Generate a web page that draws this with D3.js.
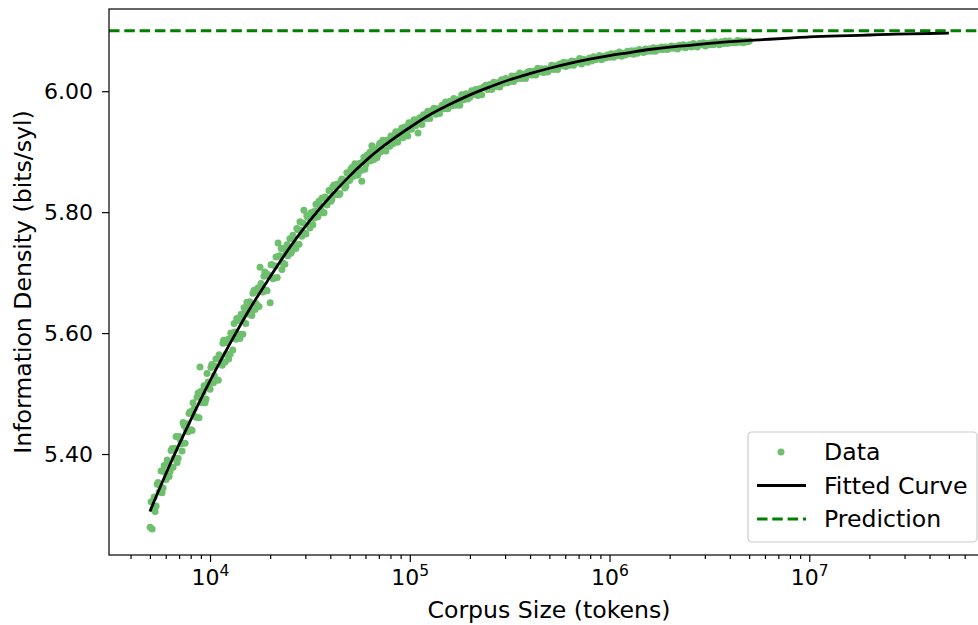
<!DOCTYPE html>
<html>
<head>
<meta charset="utf-8">
<script src="https://cdn.jsdelivr.net/npm/d3@7"></script>
<style>
    body { margin: 0; background: #fff; }
    svg { display: block; font-family: 'DejaVu Sans', sans-serif; }
    .axis .domain { display: none; }
    .axis line { stroke: #000; stroke-width: 1.2; }
    .axis text { fill: #000; font-size: 22px; font-family: 'DejaVu Sans', sans-serif; }
</style>
</head>
<body>
<svg id="chart" width="978" height="625"></svg>
<script>
// corpus sizes (tokens) of the measured points
const sizes = [
    5.01e3, 5.13e3, 5.25e3, 5.37e3, 5.50e3, 5.62e3, 5.75e3, 5.89e3, 6.03e3, 6.17e3,
    6.31e3, 6.46e3, 6.61e3, 6.76e3, 6.92e3, 7.08e3, 7.24e3, 7.41e3, 7.59e3, 7.76e3,
    7.94e3, 8.13e3, 8.32e3, 8.51e3, 8.71e3, 8.91e3, 9.12e3, 9.33e3, 9.55e3, 9.77e3,
    1.00e4, 1.02e4, 1.05e4, 1.07e4, 1.10e4, 1.12e4, 1.15e4, 1.17e4, 1.20e4, 1.23e4,
    1.26e4, 1.29e4, 1.32e4, 1.35e4, 1.38e4, 1.41e4, 1.45e4, 1.48e4, 1.51e4, 1.55e4,
    1.58e4, 1.62e4, 1.66e4, 1.70e4, 1.74e4, 1.78e4, 1.82e4, 1.86e4, 1.91e4, 1.95e4,
    2.00e4, 2.04e4, 2.09e4, 2.14e4, 2.19e4, 2.24e4, 2.29e4, 2.34e4, 2.40e4, 2.45e4,
    2.51e4, 2.57e4, 2.63e4, 2.69e4, 2.75e4, 2.82e4, 2.88e4, 2.95e4, 3.02e4, 3.09e4,
    3.16e4, 3.24e4, 3.31e4, 3.39e4, 3.47e4, 3.55e4, 3.63e4, 3.72e4, 3.80e4, 3.89e4,
    3.98e4, 4.07e4, 4.17e4, 4.27e4, 4.37e4, 4.47e4, 4.57e4, 4.68e4, 4.79e4, 4.90e4,
    5.01e4, 5.13e4, 5.25e4, 5.37e4, 5.50e4, 5.62e4, 5.75e4, 5.89e4, 6.03e4, 6.17e4,
    6.31e4, 6.46e4, 6.61e4, 6.76e4, 6.92e4, 7.08e4, 7.24e4, 7.41e4, 7.59e4, 7.76e4,
    7.94e4, 8.13e4, 8.32e4, 8.51e4, 8.71e4, 8.91e4, 9.12e4, 9.33e4, 9.55e4, 9.77e4,
    1.00e5, 1.02e5, 1.05e5, 1.07e5, 1.10e5, 1.12e5, 1.15e5, 1.17e5, 1.20e5, 1.23e5,
    1.26e5, 1.29e5, 1.32e5, 1.35e5, 1.38e5, 1.41e5, 1.45e5, 1.48e5, 1.51e5, 1.55e5,
    1.58e5, 1.62e5, 1.66e5, 1.70e5, 1.74e5, 1.78e5, 1.82e5, 1.86e5, 1.91e5, 1.95e5,
    2.00e5, 2.04e5, 2.09e5, 2.14e5, 2.19e5, 2.24e5, 2.29e5, 2.34e5, 2.40e5, 2.45e5,
    2.51e5, 2.57e5, 2.63e5, 2.69e5, 2.75e5, 2.82e5, 2.88e5, 2.95e5, 3.02e5, 3.09e5,
    3.16e5, 3.24e5, 3.31e5, 3.39e5, 3.47e5, 3.55e5, 3.63e5, 3.72e5, 3.80e5, 3.89e5,
    3.98e5, 4.07e5, 4.17e5, 4.27e5, 4.37e5, 4.47e5, 4.57e5, 4.68e5, 4.79e5, 4.90e5,
    5.01e5, 5.13e5, 5.25e5, 5.37e5, 5.50e5, 5.62e5, 5.75e5, 5.89e5, 6.03e5, 6.17e5,
    6.31e5, 6.46e5, 6.61e5, 6.76e5, 6.92e5, 7.08e5, 7.24e5, 7.41e5, 7.59e5, 7.76e5,
    7.94e5, 8.13e5, 8.32e5, 8.51e5, 8.71e5, 8.91e5, 9.12e5, 9.33e5, 9.55e5, 9.77e5,
    1.00e6, 1.02e6, 1.05e6, 1.07e6, 1.10e6, 1.12e6, 1.15e6, 1.17e6, 1.20e6, 1.23e6,
    1.26e6, 1.29e6, 1.32e6, 1.35e6, 1.38e6, 1.41e6, 1.45e6, 1.48e6, 1.51e6, 1.55e6,
    1.58e6, 1.62e6, 1.66e6, 1.70e6, 1.74e6, 1.78e6, 1.82e6, 1.86e6, 1.91e6, 1.95e6,
    2.00e6, 2.04e6, 2.09e6, 2.14e6, 2.19e6, 2.24e6, 2.29e6, 2.34e6, 2.40e6, 2.45e6,
    2.51e6, 2.57e6, 2.63e6, 2.69e6, 2.75e6, 2.82e6, 2.88e6, 2.95e6, 3.02e6, 3.09e6,
    3.16e6, 3.24e6, 3.31e6, 3.39e6, 3.47e6, 3.55e6, 3.63e6, 3.72e6, 3.80e6, 3.89e6,
    3.98e6, 4.07e6, 4.17e6, 4.27e6, 4.37e6, 4.47e6, 4.57e6, 4.68e6, 4.79e6, 4.90e6, 5.01e6,
    // second pass, small corpora
    5.07e3, 5.19e3, 5.31e3, 5.44e3, 5.56e3, 5.69e3, 5.82e3, 5.96e3, 6.10e3, 6.24e3,
    6.38e3, 6.53e3, 6.68e3, 6.84e3, 7.00e3, 7.16e3, 7.33e3, 7.50e3, 7.67e3, 7.85e3,
    8.04e3, 8.22e3, 8.41e3, 8.61e3, 8.81e3, 9.02e3, 9.23e3, 9.44e3, 9.66e3, 9.89e3,
    1.01e4, 1.04e4, 1.06e4, 1.08e4, 1.11e4, 1.14e4, 1.16e4, 1.19e4, 1.22e4, 1.24e4,
    1.27e4, 1.30e4, 1.33e4, 1.36e4, 1.40e4, 1.43e4, 1.46e4, 1.50e4, 1.53e4, 1.57e4,
    1.60e4, 1.64e4, 1.68e4, 1.72e4, 1.76e4, 1.80e4, 1.84e4, 1.88e4, 1.93e4, 1.97e4,
    2.02e4, 2.07e4, 2.12e4, 2.17e4, 2.21e4, 2.27e4, 2.32e4, 2.37e4, 2.43e4, 2.48e4,
    2.54e4, 2.60e4, 2.66e4, 2.72e4, 2.79e4, 2.85e4, 2.92e4, 2.99e4, 3.05e4, 3.12e4,
    3.20e4, 3.27e4, 3.35e4, 3.43e4, 3.51e4, 3.59e4, 3.67e4, 3.76e4, 3.85e4, 3.94e4,
    4.03e4, 4.12e4, 4.22e4, 4.32e4, 4.42e4, 4.52e4, 4.62e4, 4.73e4, 4.84e4, 4.95e4,
    5.07e4, 5.19e4, 5.31e4, 5.44e4, 5.56e4, 5.69e4, 5.82e4, 5.96e4, 6.10e4, 6.24e4,
    6.38e4, 6.53e4, 6.68e4, 6.84e4, 7.00e4, 7.16e4, 7.33e4, 7.50e4, 7.67e4, 7.85e4,
    8.04e4, 8.22e4, 8.41e4, 8.61e4, 8.81e4, 9.02e4, 9.23e4, 9.44e4, 9.66e4, 9.89e4
];

// information density (bits/syl) measured at each size
const density = [
    5.279, 5.276, 5.329, 5.314, 5.353, 5.348, 5.336, 5.381, 5.358, 5.386,
    5.371, 5.409, 5.393, 5.429, 5.393, 5.425, 5.405, 5.447, 5.442, 5.437,
    5.470, 5.439, 5.475, 5.461, 5.501, 5.544, 5.485, 5.513, 5.491, 5.519,
    5.507, 5.548, 5.530, 5.557, 5.522, 5.561, 5.547, 5.588, 5.565, 5.590,
    5.565, 5.596, 5.616, 5.590, 5.621, 5.591, 5.621, 5.642, 5.616, 5.642,
    5.652, 5.629, 5.671, 5.649, 5.675, 5.709, 5.675, 5.694, 5.671, 5.697,
    5.650, 5.713, 5.691, 5.726, 5.749, 5.728, 5.705, 5.740, 5.734, 5.728,
    5.756, 5.736, 5.757, 5.740, 5.771, 5.784, 5.760, 5.803, 5.764, 5.791,
    5.774, 5.799, 5.790, 5.813, 5.793, 5.811, 5.823, 5.799, 5.824, 5.818,
    5.835, 5.821, 5.845, 5.831, 5.845, 5.831, 5.855, 5.853, 5.843, 5.864,
    5.853, 5.874, 5.863, 5.877, 5.862, 5.881, 5.851, 5.891, 5.879, 5.892,
    5.899, 5.910, 5.887, 5.903, 5.895, 5.914, 5.903, 5.916, 5.901, 5.919,
    5.909, 5.925, 5.919, 5.933, 5.916, 5.933, 5.939, 5.927, 5.938, 5.926,
    5.947, 5.937, 5.953, 5.943, 5.931, 5.956, 5.945, 5.961, 5.955, 5.967,
    5.955, 5.968, 5.972, 5.962, 5.971, 5.963, 5.977, 5.971, 5.982, 5.971,
    5.983, 5.976, 5.988, 5.977, 5.986, 5.977, 5.994, 5.986, 5.996, 5.987,
    5.990, 6.001, 5.995, 6.003, 5.993, 6.004, 5.994, 6.007, 6.010, 6.003,
    6.011, 6.003, 6.015, 6.008, 6.014, 6.007, 6.019, 6.013, 6.021, 6.014,
    6.016, 6.025, 6.016, 6.025, 6.021, 6.030, 6.021, 6.028, 6.021, 6.032,
    6.033, 6.027, 6.033, 6.027, 6.038, 6.032, 6.037, 6.031, 6.037, 6.032,
    6.036, 6.043, 6.036, 6.042, 6.036, 6.045, 6.042, 6.048, 6.041, 6.047,
    6.043, 6.050, 6.043, 6.049, 6.047, 6.054, 6.045, 6.053, 6.051, 6.048,
    6.055, 6.050, 6.057, 6.052, 6.054, 6.059, 6.052, 6.058, 6.055, 6.060,
    6.056, 6.062, 6.056, 6.062, 6.059, 6.065, 6.058, 6.063, 6.060, 6.066,
    6.062, 6.067, 6.061, 6.067, 6.063, 6.069, 6.066, 6.064, 6.070, 6.066,
    6.070, 6.066, 6.072, 6.066, 6.071, 6.069, 6.073, 6.069, 6.073, 6.069,
    6.071, 6.075, 6.071, 6.074, 6.070, 6.076, 6.073, 6.077, 6.072, 6.075,
    6.077, 6.073, 6.079, 6.075, 6.073, 6.079, 6.077, 6.080, 6.075, 6.079,
    6.077, 6.080, 6.077, 6.082, 6.079, 6.077, 6.082, 6.079, 6.083, 6.079,
    6.083, 6.080, 6.081, 6.080, 6.084, 6.081, 6.083, 6.080, 6.083, 6.082, 6.083,
    // second pass, small corpora
    5.321, 5.309, 5.305, 5.350, 5.337, 5.372, 5.344, 5.370, 5.390, 5.363,
    5.406, 5.378, 5.409, 5.386, 5.429, 5.417, 5.452, 5.418, 5.450, 5.467,
    5.440, 5.485, 5.462, 5.494, 5.460, 5.504, 5.502, 5.485, 5.533, 5.511,
    5.543, 5.518, 5.545, 5.523, 5.564, 5.551, 5.583, 5.552, 5.584, 5.557,
    5.600, 5.572, 5.602, 5.624, 5.598, 5.631, 5.598, 5.635, 5.651, 5.631,
    5.634, 5.666, 5.639, 5.669, 5.644, 5.682, 5.668, 5.701, 5.670, 5.694,
    5.713, 5.690, 5.711, 5.692, 5.727, 5.740, 5.716, 5.714, 5.746, 5.742,
    5.732, 5.762, 5.746, 5.773, 5.747, 5.770, 5.782, 5.765, 5.794, 5.779,
    5.799, 5.779, 5.802, 5.792, 5.818, 5.804, 5.799, 5.825, 5.812, 5.836,
    5.818, 5.842, 5.829, 5.846, 5.829, 5.851, 5.845, 5.840, 5.865, 5.852,
    5.871, 5.859, 5.880, 5.861, 5.879, 5.869, 5.883, 5.871, 5.894, 5.885,
    5.885, 5.904, 5.895, 5.890, 5.910, 5.900, 5.919, 5.903, 5.919, 5.914,
    5.926, 5.913, 5.928, 5.916, 5.933, 5.926, 5.923, 5.941, 5.931, 5.948
];

// fitted curve
const fitSizes = [
    5.00e3, 6.31e3, 7.94e3, 1.00e4, 1.26e4, 1.58e4, 2.00e4, 2.51e4, 3.16e4, 3.98e4,
    5.01e4, 6.31e4, 7.94e4, 1.00e5, 1.26e5, 1.58e5, 2.00e5, 2.51e5, 3.16e5, 3.98e5,
    5.01e5, 6.31e5, 7.94e5, 1.00e6, 1.26e6, 1.58e6, 2.00e6, 2.51e6, 3.16e6, 3.98e6,
    5.01e6, 6.31e6, 7.94e6, 1.00e7, 1.26e7, 1.58e7, 2.00e7, 2.51e7, 3.16e7, 3.98e7, 5.00e7
];
const fitValues = [
    5.305, 5.383, 5.454, 5.521, 5.583, 5.640, 5.693, 5.742, 5.786, 5.825,
    5.860, 5.891, 5.917, 5.940, 5.961, 5.978, 5.994, 6.007, 6.019, 6.029,
    6.038, 6.046, 6.053, 6.059, 6.064, 6.069, 6.073, 6.076, 6.079, 6.082,
    6.084, 6.086, 6.088, 6.090, 6.091, 6.092, 6.093, 6.094, 6.095, 6.0955, 6.096
];

const prediction = 6.1;

const xMajorTicks = [1e4, 1e5, 1e6, 1e7];
const xTickExponents = ['4', '5', '6', '7'];
const yTicks = [5.4, 5.6, 5.8, 6.0];
const legendLabels = ['Data', 'Fitted Curve', 'Prediction'];

const colors = {
    data: 'rgb(110,191,110)',
    fit: '#000',
    prediction: '#008000'
};

const plot = { left: 109, top: 9, right: 989, bottom: 555 };
const LABEL_SIZE = '23.6px';

const svg = d3.select('#chart');

const x = d3.scaleLog()
    .domain([3120, 7.94e7])
    .range([plot.left, plot.right]);
const y = d3.scaleLinear()
    .domain([5.233, 6.136])
    .range([plot.bottom, plot.top]);

// minor ticks at 2..9 x 10^k inside the domain
let xMinorTicks = [];
for (let k = 3; k <= 7; k++) {
    for (let m = 2; m <= 9; m++) {
        let v = m * Math.pow(10, k);
        if (v > x.domain()[0] && v < x.domain()[1]) xMinorTicks.push(v);
    }
}

svg.append('defs').append('clipPath').attr('id', 'plot-clip')
    .append('rect')
    .attr('x', plot.left).attr('y', plot.top)
    .attr('width', plot.right - plot.left).attr('height', plot.bottom - plot.top);

const inner = svg.append('g').attr('clip-path', 'url(#plot-clip)');

// data points
inner.append('g')
    .selectAll('circle')
    .data(d3.range(Math.min(sizes.length, density.length)))
    .join('circle')
    .attr('cx', i => x(sizes[i]))
    .attr('cy', i => y(density[i]))
    .attr('r', 3.5)
    .attr('fill', colors.data);

// fitted curve
const line = d3.line()
    .x((d, i) => x(fitSizes[i]))
    .y(d => y(d))
    .curve(d3.curveMonotoneX);
inner.append('path')
    .attr('d', line(fitValues))
    .attr('fill', 'none')
    .attr('stroke', colors.fit)
    .attr('stroke-width', 2.8);

// predicted asymptote
inner.append('line')
    .attr('x1', plot.left).attr('x2', plot.right)
    .attr('y1', y(prediction)).attr('y2', y(prediction))
    .attr('stroke', colors.prediction)
    .attr('stroke-width', 2.8)
    .attr('stroke-dasharray', '10.5,4.8');

// axes
const xAxis = svg.append('g')
    .attr('class', 'axis')
    .attr('transform', `translate(0,${plot.bottom})`)
    .call(d3.axisBottom(x).tickValues(xMajorTicks).tickSize(7).tickFormat(''));
xAxis.selectAll('.tick text').each(function (d, i) {
    let t = d3.select(this).attr('y', 30).attr('dy', null).text('');
    t.append('tspan').text('10');
    t.append('tspan').attr('dy', -9).style('font-size', '15.5px').text(xTickExponents[i]);
});

svg.append('g')
    .attr('class', 'axis')
    .attr('transform', `translate(0,${plot.bottom})`)
    .call(d3.axisBottom(x).tickValues(xMinorTicks).tickSize(4).tickFormat(''));

svg.append('g')
    .attr('class', 'axis')
    .attr('transform', `translate(${plot.left},0)`)
    .call(d3.axisLeft(y).tickValues(yTicks).tickSize(7).tickPadding(9).tickFormat(d3.format('.2f')));

// spines
svg.append('rect')
    .attr('x', plot.left).attr('y', plot.top)
    .attr('width', plot.right - plot.left).attr('height', plot.bottom - plot.top)
    .attr('fill', 'none')
    .attr('stroke', '#000')
    .attr('stroke-width', 1.2);

// axis labels
svg.append('text')
    .attr('x', (plot.left + plot.right) / 2)
    .attr('y', 618)
    .attr('text-anchor', 'middle')
    .style('font-size', LABEL_SIZE)
    .text('Corpus Size (tokens)');
svg.append('text')
    .attr('transform', `translate(31,${(plot.top + plot.bottom) / 2}) rotate(-90)`)
    .attr('text-anchor', 'middle')
    .style('font-size', LABEL_SIZE)
    .text('Information Density (bits/syl)');

// legend
const legend = svg.append('g').attr('transform', 'translate(748,432)');
legend.append('rect')
    .attr('width', 229).attr('height', 110)
    .attr('rx', 4)
    .attr('fill', '#fff')
    .attr('fill-opacity', 0.8)
    .attr('stroke', '#cccccc')
    .attr('stroke-width', 1.2);
const rowY = [20, 53.5, 87];
legend.append('circle')
    .attr('cx', 33).attr('cy', rowY[0]).attr('r', 3.5)
    .attr('fill', colors.data);
legend.append('line')
    .attr('x1', 9).attr('x2', 58).attr('y1', rowY[1]).attr('y2', rowY[1])
    .attr('stroke', colors.fit).attr('stroke-width', 2.8);
legend.append('line')
    .attr('x1', 9).attr('x2', 58).attr('y1', rowY[2]).attr('y2', rowY[2])
    .attr('stroke', colors.prediction).attr('stroke-width', 2.8)
    .attr('stroke-dasharray', '10.5,4.8');
legend.selectAll('text.label')
    .data(legendLabels)
    .join('text')
    .attr('class', 'label')
    .attr('x', 76)
    .attr('y', (d, i) => rowY[i])
    .attr('dy', '0.36em')
    .style('font-size', LABEL_SIZE)
    .text(d => d);
</script>
</body>
</html>
